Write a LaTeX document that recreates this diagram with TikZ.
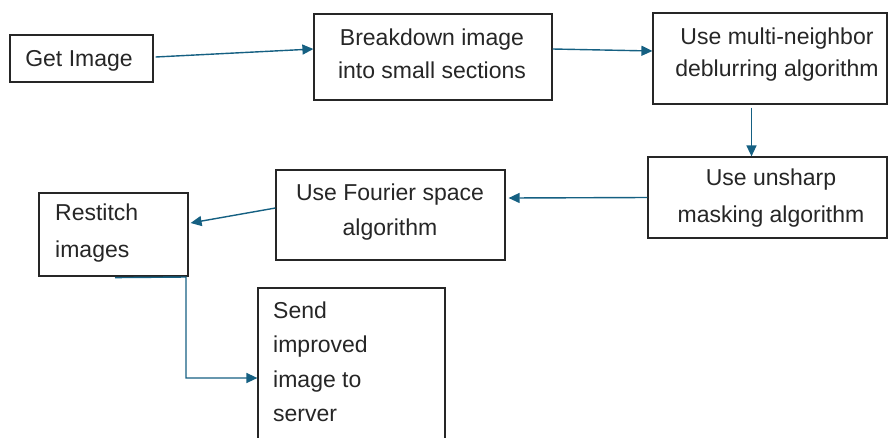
\documentclass[tikz,border=0pt]{standalone}
\usepackage{fontspec}
\setmainfont{Liberation Sans}
\usetikzlibrary{arrows.meta}
\definecolor{arrowblue}{HTML}{156082}
\definecolor{ink}{HTML}{262626}
\tikzset{
  box/.style={draw=ink, line width=1.2pt, inner sep=0pt, fill=white},
  lbl/.style={text=ink, inner sep=0pt, anchor=base},
  conn/.style={draw=arrowblue, line width=1.4pt, -{Triangle[length=11pt,width=10pt]}},
}
\newcommand{\fs}[1]{\fontsize{23}{#1}\selectfont}
\begin{document}
\begin{tikzpicture}[x=1pt,y=-1pt]
\useasboundingbox (0,0) rectangle (888,437);
\clip (0,0) rectangle (888,437);
% boxes
\node[box, minimum width=143pt, minimum height=47pt] (get) at (81.5,58.5) {};
\node[box, minimum width=238pt, minimum height=86pt] (bd) at (433,57) {};
\node[box, minimum width=234pt, minimum height=91pt] (multi) at (770,58.5) {};
\node[box, minimum width=239pt, minimum height=81pt] (unsharp) at (767.5,197.5) {};
\node[box, minimum width=229pt, minimum height=90pt] (fourier) at (390.5,215) {};
\node[box, minimum width=149pt, minimum height=83pt] (restitch) at (113.5,234.5) {};
\node[box, minimum width=187pt, minimum height=172pt] (send) at (351.5,374) {};
% texts (base anchor = baseline of the last line)
\node[lbl, font=\fs{28}] (tget) at (79,66) {Get Image};
\node[lbl, align=center, font=\fs{33}] (tbd) at (432,78) {Breakdown image\\into small sections};
\node[lbl, align=center, font=\fs{32.5}] (tmulti) at (777,76.5) {Use multi-neighbor\\deblurring algorithm};
\node[lbl, align=center, font=\fs{37}] (tunsharp) at (771,222) {Use unsharp\\masking algorithm};
\node[lbl, align=center, font=\fs{35}] (tfourier) at (390,235) {Use Fourier space\\algorithm};
\node[lbl, anchor=base west, align=left, font=\fs{37}] (trestitch) at (55,257) {Restitch\\images};
\node[lbl, anchor=base west, align=left, font=\fs{34.5}] (tsend) at (273,421.5) {Send\\improved\\image to\\server};
% connectors
\draw[conn] ([xshift=2pt,yshift=1.5pt]get.east) -- ([yshift=8pt]bd.west);
\draw[conn] ([yshift=8pt]bd.east) -- ([yshift=7.5pt]multi.west);
\draw[conn] ([xshift=-18.5pt,yshift=-3pt]multi.south) -- ([xshift=-16pt]unsharp.north);
\draw[conn] (unsharp.west) -- ([xshift=3pt,yshift=17pt]fourier.east);
\draw[conn] ([yshift=7pt]fourier.west) -- ([xshift=2pt,yshift=11.5pt]restitch.east);
\coordinate (rbend) at (186,277);
\draw[conn] ([xshift=1.5pt,yshift=-1pt]restitch.south) -- (rbend) |- ([yshift=-4pt]send.west);
\end{tikzpicture}
\end{document}
